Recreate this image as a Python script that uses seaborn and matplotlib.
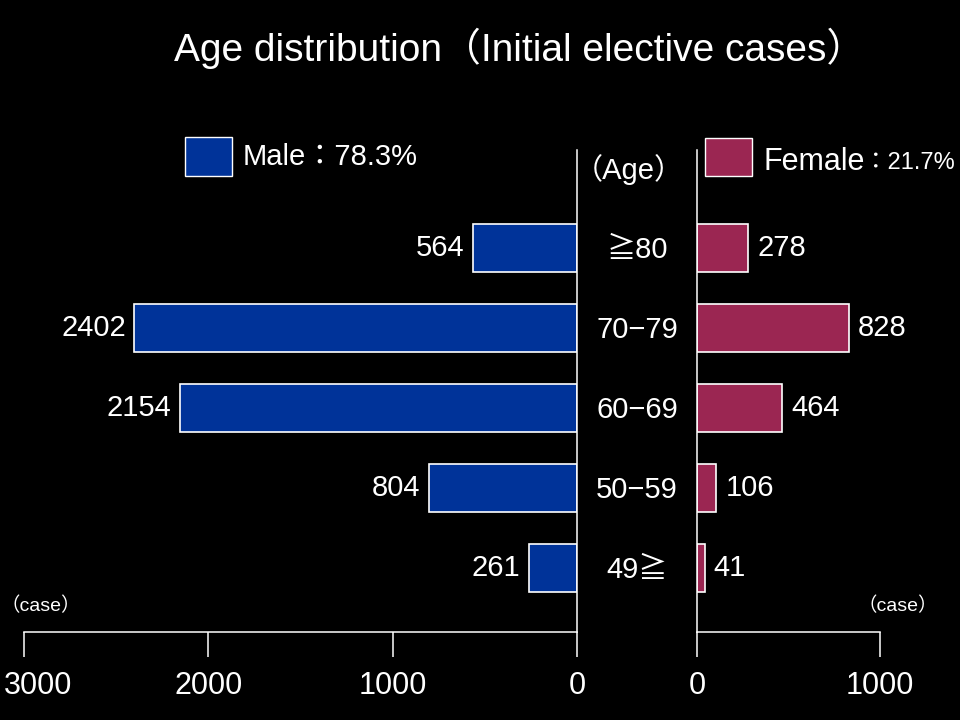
import pandas as pd
import matplotlib.pyplot as plt
import matplotlib.transforms as mtransforms
from matplotlib.patches import Rectangle
import seaborn as sns

# Data
ages = ["≧80", "70−79", "60−69", "50−59", "49≧"]
male = [564, 2402, 2154, 804, 261]
female = [278, 828, 464, 106, 41]
male_ticks = [0, 1000, 2000, 3000]
female_ticks = [0, 1000]

df = pd.DataFrame({"Age": ages, "Male": male, "Female": female})

BLUE = "#003399"
RED = "#9b2652"
FONTS = ["Liberation Sans", "Noto Sans CJK JP", "DejaVu Sans"]

sns.set_theme(style="dark")
plt.rcParams["font.family"] = FONTS
plt.rcParams["figure.facecolor"] = "black"
plt.rcParams["axes.facecolor"] = "black"
plt.rcParams["text.color"] = "white"

fig = plt.figure(figsize=(9.6, 7.2), dpi=100)
ax_m = fig.add_axes([24 / 960, 88 / 720, 553 / 960, 482 / 720])
ax_f = fig.add_axes([697 / 960, 88 / 720, 183 / 960, 482 / 720])

sns.barplot(data=df, x="Male", y="Age", ax=ax_m, color=BLUE, saturation=1,
            edgecolor="white", linewidth=1.2, width=0.6, orient="h")
sns.barplot(data=df, x="Female", y="Age", ax=ax_f, color=RED, saturation=1,
            edgecolor="white", linewidth=1.2, width=0.6, orient="h")

ax_m.set_xlim(3000, 0)
ax_f.set_xlim(0, 1000)
ax_m.set_xticks(male_ticks)
ax_f.set_xticks(female_ticks)

for ax, keep in [(ax_m, "right"), (ax_f, "left")]:
    ax.set_ylim(4.8, -1.225)
    ax.set_facecolor("black")
    ax.grid(False)
    ax.set_xlabel("")
    ax.set_ylabel("")
    ax.set_yticks([])
    for side in ["top", "left", "right", "bottom"]:
        ax.spines[side].set_visible(side in (keep, "bottom"))
        ax.spines[side].set_color("white")
        ax.spines[side].set_linewidth(1.1)
    ax.tick_params(axis="x", direction="out", length=18, width=1.1,
                   color="white", labelcolor="white", labelsize=22, pad=10,
                   bottom=True)

# the "3000" label sits shifted right so it stays inside the picture
lab = ax_m.get_xticklabels()[-1]
lab.set_transform(lab.get_transform() +
                  mtransforms.ScaledTranslation(0.14, 0, fig.dpi_scale_trans))

# value labels
for i, v in enumerate(male):
    ax_m.text(v + 45, i, str(v), ha="right", va="center", fontsize=21, color="white")
for i, v in enumerate(female):
    ax_f.text(v + 50, i, str(v), ha="left", va="center", fontsize=21, color="white")

# age labels between the panels
trans = mtransforms.blended_transform_factory(ax_f.transAxes, ax_f.transData)
for i, a in enumerate(ages):
    ax_f.text(-0.328, i + 0.03, a, transform=trans, ha="center", va="center",
              fontsize=21, color="white")

# title and annotations
fig.text(520 / 960, 1 - 48 / 720, "Age distribution（Initial elective cases）",
         ha="center", va="center", fontsize=28, color="white")
fig.text(629 / 960, 1 - 170 / 720, "（Age）", ha="center", va="center", fontsize=21)
fig.text(0, 1 - 606 / 720, "（case）", ha="left", va="center", fontsize=14)
fig.text(898 / 960, 1 - 606 / 720, "（case）", ha="center", va="center", fontsize=14)

# legend boxes
fig.patches.append(Rectangle((185 / 960, 1 - 176 / 720), 47 / 960, 39 / 720,
                             transform=fig.transFigure, facecolor=BLUE,
                             edgecolor="white", linewidth=1))
fig.patches.append(Rectangle((705 / 960, 1 - 176 / 720), 47 / 960, 38 / 720,
                             transform=fig.transFigure, facecolor=RED,
                             edgecolor="white", linewidth=1))
fig.text(243 / 960, 1 - 157 / 720, "Male：78.3%", ha="left", va="center", fontsize=21)
fig.text(763 / 960, 1 - 162 / 720, "Female", ha="left", va="center", fontsize=22)
fig.text(864 / 960, 1 - 163 / 720, "：21.7%", ha="left", va="center", fontsize=17)

fig.savefig("out.png", dpi=100, facecolor="black")
